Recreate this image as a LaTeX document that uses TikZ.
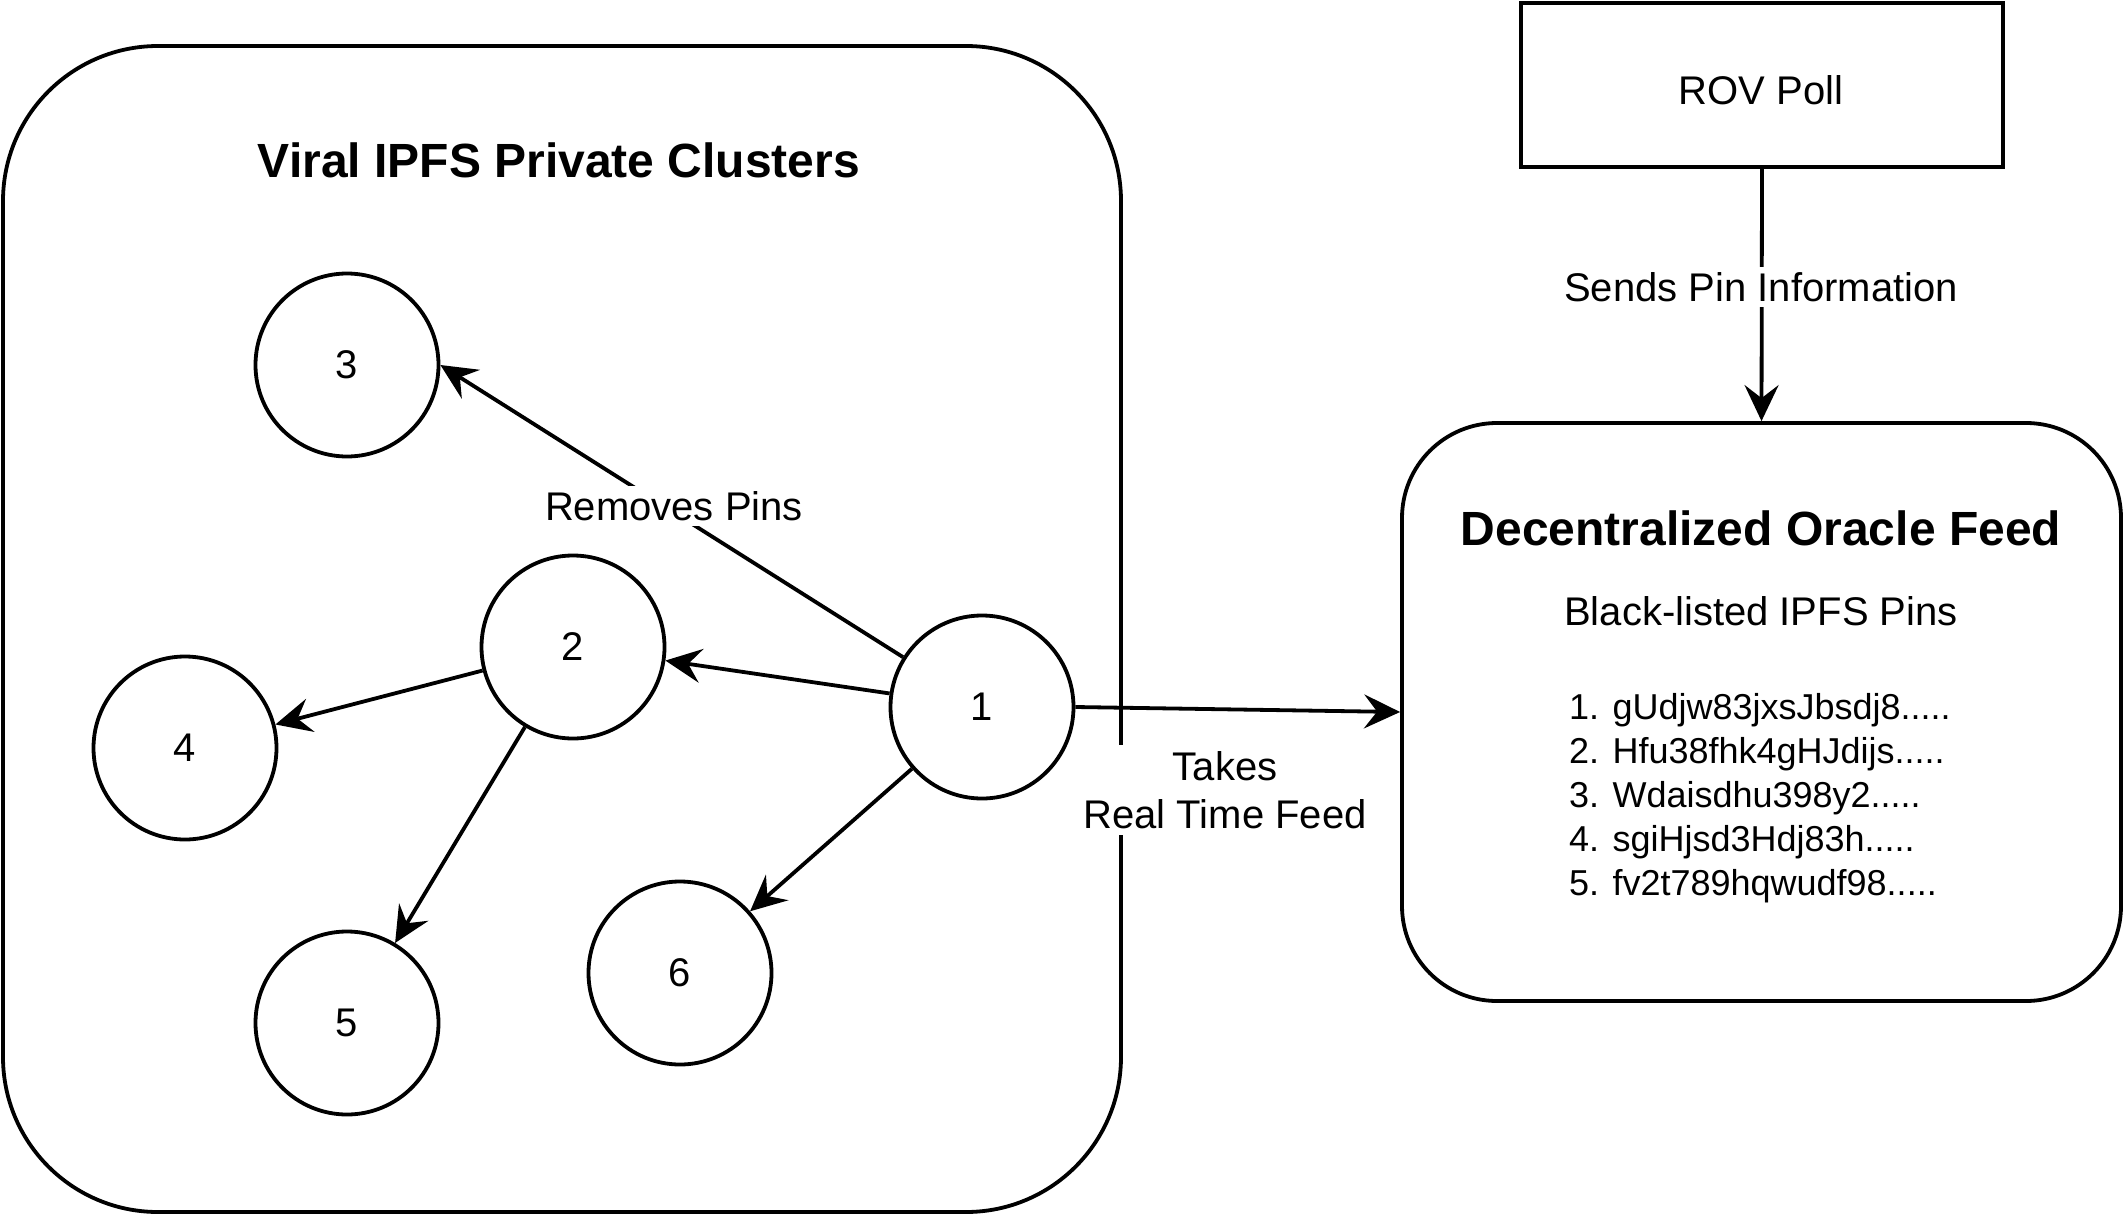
\documentclass[tikz,border=0pt]{standalone}
\usepackage{fontspec}
\setmainfont{Liberation Sans}
\usetikzlibrary{arrows.meta}
\begin{document}
\begin{tikzpicture}[x=1pt,y=-1pt,
  lw/.style={line width=3.8pt},
  peer/.style={draw,lw,circle,minimum size=183pt,inner sep=0pt,font=\fontsize{40}{48}\selectfont},
  arr/.style={lw,-{Stealth[length=36pt,width=34pt,inset=13pt]}},
  lbl/.style={fill=white,inner sep=5pt,font=\fontsize{40}{48}\selectfont,align=center},
  ttl/.style={font=\fontsize{48}{58}\selectfont\bfseries},
  txt/.style={font=\fontsize{40}{48}\selectfont},
  lst/.style={font=\fontsize{36}{44}\selectfont,align=left}
]
\useasboundingbox (0,0) rectangle (2128,1220);
% containers
\node[draw,lw,rounded corners=155pt,minimum width=1118pt,minimum height=1166pt,inner sep=0pt] (cl) at (562,629) {};
\node[ttl] (cltitle) at (559,160) {Viral IPFS Private Clusters};
\node[draw,lw,minimum width=482pt,minimum height=164pt,inner sep=0pt] (rov) at (1762,85) {};
\node[txt] (rovtxt) at (1761,90) {ROV Poll};
\node[draw,lw,rounded corners=95pt,minimum width=719pt,minimum height=578pt,inner sep=0pt] (or) at (1761.5,712) {};
\node[ttl] (ortitle) at (1761,528) {Decentralized Oracle Feed};
\node[txt] (orsub) at (1761,611) {Black-listed IPFS Pins};
\node[lst,anchor=west,inner sep=0pt] (orlist) at (1569,798) {1. gUdjw83jxsJbsdj8.....\\2. Hfu38fhk4gHJdijs.....\\3. Wdaisdhu398y2.....\\4. sgiHjsd3Hdj83h.....\\5. fv2t789hqwudf98.....};
% peers
\node[peer] (n3) at (347,365) {3};
\node[peer] (n2) at (573,647) {2};
\node[peer] (n4) at (185,748) {4};
\node[peer] (n1) at (982,707) {1};
\node[peer] (n5) at (347,1023) {5};
\node[peer] (n6) at (680,973) {6};
% edges
\draw[arr] (n1) -- (n3.east);
\draw[arr] (n1) -- (n2);
\draw[arr] (n1) -- (n6);
\draw[arr] (n2) -- (n4);
\draw[arr] (n2) -- (n5);
\draw[arr] (n1.east) -- (or.west);
\draw[arr] (rov.south) -- (or.north);
% labels
\node[lbl] (lrm) at (674,506) {Removes Pins};
\node[lbl] (lsend) at (1761,287) {Sends Pin Information};
\node[lbl,inner sep=6pt] (ltake) at (1225,790) {Takes\\Real Time Feed};
\end{tikzpicture}
\end{document}
